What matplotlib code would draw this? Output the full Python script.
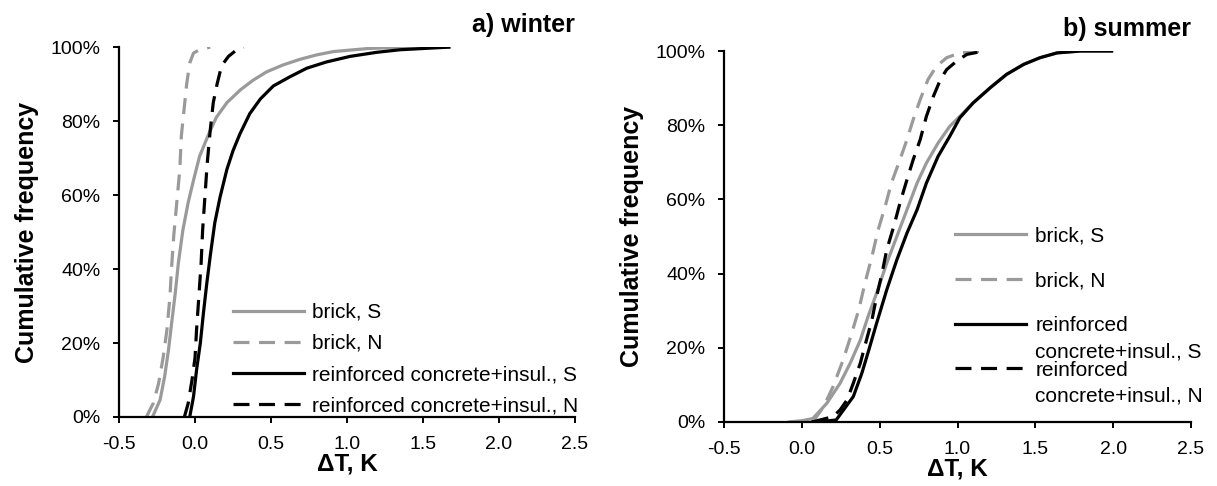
import matplotlib
matplotlib.use("Agg")
import matplotlib.pyplot as plt
from matplotlib.ticker import PercentFormatter

plt.rcParams["font.family"] = ["Liberation Sans", "DejaVu Sans"]

# winter curves (dT in K, cumulative frequency in %)
w_brick_s_x = [-0.28, -0.23, -0.20, -0.175, -0.155, -0.13, -0.11, -0.08, -0.045, -0.01, 0.03,
               0.09, 0.14, 0.21, 0.30, 0.38, 0.47, 0.58, 0.69, 0.80, 0.91, 1.13, 1.35, 1.67]
w_brick_s_y = [0, 4.6, 10.9, 18, 25, 33.5, 41.5, 50.5, 58, 64, 70.5,
               76.5, 81, 85, 88.5, 91, 93.3, 95.2, 96.7, 97.9, 98.8, 99.6, 100, 100]
w_brick_n_x = [-0.32, -0.275, -0.24, -0.21, -0.185, -0.165, -0.155, -0.14, -0.12, -0.10,
               -0.09, -0.07, -0.055, -0.035, -0.01, 0.03, 0.10]
w_brick_n_y = [0, 3.7, 9, 16, 23.5, 32.5, 40, 49, 58, 67, 76, 84, 90, 95.7, 98.4, 99.3, 100]
w_conc_s_x = [-0.035, -0.01, 0.01, 0.035, 0.055, 0.077, 0.10, 0.13, 0.165, 0.21, 0.25, 0.295,
              0.36, 0.43, 0.515, 0.625, 0.735, 0.865, 1.02, 1.195, 1.35, 1.67]
w_conc_s_y = [0, 5.5, 12.7, 20, 28, 36, 43.5, 52.5, 59.5, 67, 72, 76.5,
              82, 86, 89.5, 92, 94.3, 96, 97.5, 98.6, 99.3, 100]
w_conc_n_x = [-0.07, -0.045, -0.02, 0.0, 0.01, 0.025, 0.04, 0.05, 0.065, 0.08, 0.10,
              0.12, 0.145, 0.175, 0.22, 0.275, 0.32]
w_conc_n_y = [0, 3.7, 10, 16, 23.5, 32.5, 41.5, 50.5, 59.5, 68.5, 77.5, 85, 90, 95, 97.5, 99.3, 100]

# summer curves
s_brick_s_x = [-0.08, 0.0, 0.07, 0.16, 0.245, 0.31, 0.375, 0.425, 0.48, 0.545, 0.61, 0.675,
               0.74, 0.80, 0.875, 0.95, 1.015, 1.10, 1.21, 1.315, 1.425, 1.53, 1.64, 1.79, 1.99]
s_brick_s_y = [0, 0.3, 0.9, 5, 10.4, 15.8, 22, 28.4, 34.7, 42.8, 50, 57.2,
               64.4, 69.8, 75.2, 79.7, 82.4, 86, 90.1, 93.7, 96.4, 98.2, 99.5, 100, 100]
s_brick_n_x = [0.07, 0.14, 0.20, 0.265, 0.32, 0.365, 0.405, 0.45, 0.49, 0.535, 0.575,
               0.63, 0.675, 0.715, 0.76, 0.81, 0.865, 0.93, 1.015, 1.18]
s_brick_n_y = [0, 4.1, 9.5, 16.7, 23.9, 30.2, 37.4, 44.6, 51.8, 58.1, 64.4,
               70.7, 76.1, 81.5, 86.9, 92.3, 95.9, 98.2, 99.5, 100]
s_conc_s_x = [0.07, 0.15, 0.22, 0.33, 0.385, 0.43, 0.48, 0.545, 0.61, 0.675, 0.74, 0.80,
              0.875, 0.95, 1.015, 1.10, 1.21, 1.315, 1.425, 1.53, 1.64, 1.79, 1.99]
s_conc_s_y = [0, 0.2, 0.5, 6.8, 13.1, 19.4, 26.6, 35.6, 43.7, 50.9, 57.2, 64.4,
              71.6, 77, 82, 86, 90.1, 93.7, 96.4, 98.2, 99.5, 100, 100]
s_conc_n_x = [0.07, 0.20, 0.245, 0.29, 0.33, 0.375, 0.415, 0.45, 0.48, 0.515, 0.545, 0.59,
              0.63, 0.675, 0.715, 0.76, 0.80, 0.845, 0.89, 0.93, 0.995, 1.06, 1.17]
s_conc_n_y = [0, 1.4, 3.2, 5.9, 10.4, 15.8, 22.1, 27.5, 33.8, 40.1, 46.4, 52.7,
              59, 65.3, 70.7, 76.1, 82.4, 87.8, 92.3, 95, 97.3, 99.1, 100]

x_ticks = [-0.5, 0.0, 0.5, 1.0, 1.5, 2.0, 2.5]
y_ticks = [0, 20, 40, 60, 80, 100]

gray = "#9a9a9a"
lw = 2.3
dash = (0, (5, 3))

fig = plt.figure(figsize=(12.17, 4.86), dpi=100)
ax1 = fig.add_axes([0.0978, 0.142, 0.3747, 0.761])
ax2 = fig.add_axes([0.595, 0.132, 0.3836, 0.763])


def style(ax, title):
    ax.set_xlim(-0.5, 2.5)
    ax.set_ylim(0, 100)
    ax.set_xticks(x_ticks)
    ax.set_xticklabels([f"{t:.1f}" for t in x_ticks])
    ax.set_yticks(y_ticks)
    ax.yaxis.set_major_formatter(PercentFormatter(decimals=0))
    for s in ["top", "right"]:
        ax.spines[s].set_visible(False)
    for s in ["left", "bottom"]:
        ax.spines[s].set_linewidth(1.6)
    ax.tick_params(direction="out", length=4.5, width=1.4, labelsize=14, pad=9)
    ax.set_xlabel("ΔT, K", fontsize=17.5, fontweight="bold", labelpad=0)
    ax.set_ylabel("Cumulative frequency", fontsize=18, fontweight="bold", labelpad=8)
    ax.set_title(title, loc="right", fontsize=18, fontweight="bold", pad=11)


def top_align(leg):
    # put the line at the first text row, like the original
    for col in leg._legend_handle_box.get_children():
        for item in col.get_children():
            item.align = "top"


# winter
ax1.plot(w_brick_s_x, w_brick_s_y, color=gray, lw=lw, label="brick, S")
ax1.plot(w_brick_n_x, w_brick_n_y, color=gray, lw=lw, ls=dash, label="brick, N")
ax1.plot(w_conc_s_x, w_conc_s_y, color="black", lw=lw, label="reinforced concrete+insul., S")
ax1.plot(w_conc_n_x, w_conc_n_y, color="black", lw=lw, ls=dash, label="reinforced concrete+insul., N")
style(ax1, "a) winter")
ax1.legend(loc="lower left", bbox_to_anchor=(0.25, 0.005), frameon=False, fontsize=15,
           handlelength=3.4, handletextpad=0.4, labelspacing=0.58, borderpad=0, borderaxespad=0)

# summer
ax2.plot(s_brick_s_x, s_brick_s_y, color=gray, lw=lw, label="brick, S\n")
ax2.plot(s_brick_n_x, s_brick_n_y, color=gray, lw=lw, ls=dash, label="brick, N\n")
ax2.plot(s_conc_s_x, s_conc_s_y, color="black", lw=lw, label="reinforced\nconcrete+insul., S")
ax2.plot(s_conc_n_x, s_conc_n_y, color="black", lw=lw, ls=dash, label="reinforced\nconcrete+insul., N")
style(ax2, "b) summer")
leg2 = ax2.legend(loc="upper left", bbox_to_anchor=(0.495, 0.526), frameon=False, fontsize=15,
                  handlelength=3.4, handletextpad=0.45, labelspacing=0.0, borderpad=0,
                  borderaxespad=0)
for t in leg2.get_texts():
    t.set_linespacing(1.45)
top_align(leg2)

fig.savefig("out.png", dpi=100)
